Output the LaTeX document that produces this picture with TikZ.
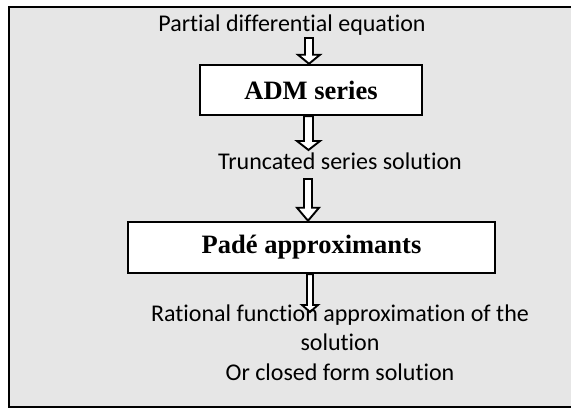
\documentclass[tikz,border=0pt]{standalone}
\usepackage{fontspec}
\setmainfont{Carlito}[Ligatures=NoCommon]
\newfontfamily\boxfont{Liberation Serif}
\usetikzlibrary{calc}
\definecolor{bggray}{HTML}{E6E6E6}
\newcommand\blockarr[6]{\draw[barrow] let \p1=(#2), \p2=(#3) in
 (#1pt-#4pt,\y1) -- (#1pt+#4pt,\y1) -- (#1pt+#4pt,\y2+#6pt) -- (#1pt+#5pt,\y2+#6pt) -- (#1pt,\y2) -- (#1pt-#5pt,\y2+#6pt) -- (#1pt-#4pt,\y2+#6pt) -- cycle;}
\begin{document}
\begin{tikzpicture}[x=1pt,y=-1pt,
  lbl/.style={font=\fontsize{24}{29.3}\selectfont, inner sep=0pt, align=center},
  procbox/.style={draw, line width=2.5pt, fill=white, font=\boxfont\bfseries\fontsize{26.5}{30}\selectfont, inner sep=0pt},
  barrow/.style={draw, fill=white, line width=1.9pt, line join=miter}]
\useasboundingbox (0,0) rectangle (571,408);
\fill[white] (0,0) rectangle (571,408);
\draw[line width=2pt, fill=bggray] (9,6.5) rectangle (580,406.5);
\node[lbl, anchor=base] (pde) at (292,31.5) {Partial differential equation};
\node[procbox, minimum width=222pt, minimum height=50pt] (adm) at (311,90) {ADM series};
\node[lbl, anchor=base] (trunc) at (340,169.5) {Truncated series solution};
\node[procbox, minimum width=367pt, minimum height=51pt] (pade) at (311.5,247.5) {Padé approximants};
\coordinate (a1) at (309,38);
\coordinate (t2) at (309,150);
\coordinate (a3) at (308,179);
\coordinate (t4) at (310,312);
\blockarr{309}{a1}{adm.north}{4}{11}{9}
\blockarr{308.5}{adm.south}{t2}{4.5}{11.5}{9}
\blockarr{308}{a3}{pade.north}{4}{11}{13}
\blockarr{310}{pade.south}{t4}{3}{8}{7}
\node[lbl] (res) at (340,342.5) {Rational function approximation of the\\solution\\Or closed form solution};
\end{tikzpicture}
\end{document}
